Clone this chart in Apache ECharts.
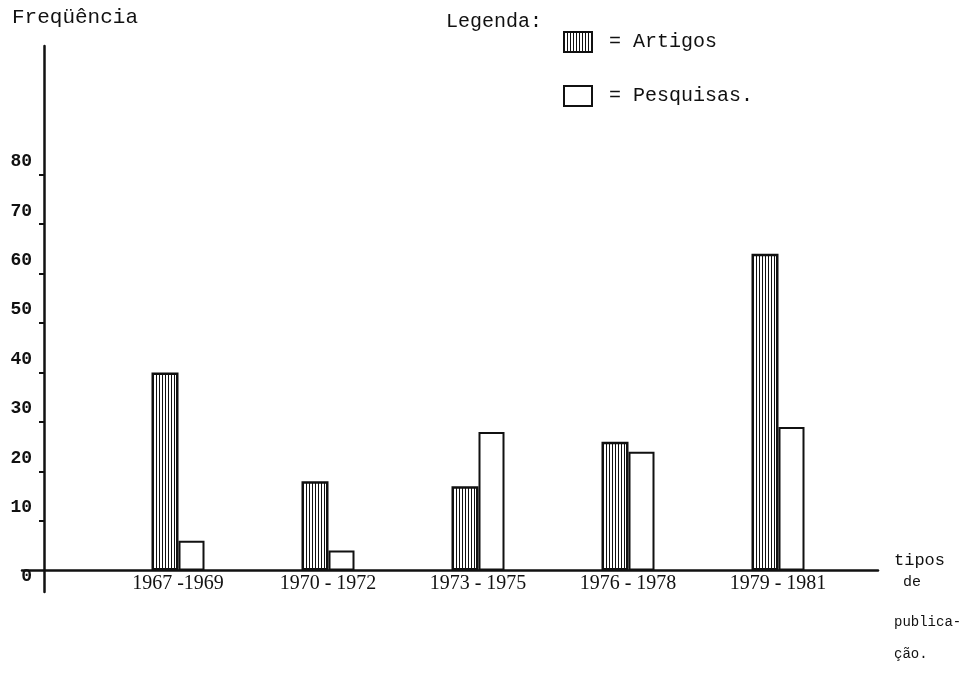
<!DOCTYPE html>
<html><head><meta charset="utf-8">
<script src="https://cdn.jsdelivr.net/npm/echarts@6/dist/echarts.min.js"></script>
<style>html,body{margin:0;padding:0;background:#fff}#c{width:969px;height:678px}</style>
</head><body><div id="c"></div>
<script>
const categories = ['1967 -1969', '1970 - 1972', '1973 - 1975', '1976 - 1978', '1979 - 1981'];
const artigos = [40, 18, 17, 26, 64];
const pesquisas = [6, 4, 28, 24, 29];
const yTickValues = [10, 20, 30, 40, 50, 60, 70, 80];
const yLabelValues = [0, 10, 20, 30, 40, 50, 60, 70, 80];
const seriesNames = ['Artigos', 'Pesquisas'];

const cv = document.createElement('canvas'); cv.width = 3; cv.height = 4;
const cx = cv.getContext('2d');
cx.fillStyle = '#fff'; cx.fillRect(0, 0, 3, 4);
cx.fillStyle = '#111'; cx.fillRect(0, 0, 1, 4);
const stripe = { image: cv, repeat: 'repeat' };

const mono = 'Liberation Mono';
const Y_MIN = -4.4, Y_MAX = 106;
const chart = echarts.init(document.getElementById('c'), null, { renderer: 'canvas' });
const option = {
  animation: false,
  backgroundColor: '#fff',
  title: [
    { text: 'Freqüência', left: 12, top: 7, padding: 0, textStyle: { fontFamily: mono, fontSize: 21, fontWeight: 'normal', color: '#111' } },
    { text: 'Legenda:', left: 446, top: 12, padding: 0, textStyle: { fontFamily: mono, fontSize: 20, fontWeight: 'normal', color: '#111' } },
    { text: '{a|tipos}\n{b| de}\n{c|publica-}\n{d|ção.}', left: 894, top: 550, padding: 0,
      textStyle: { fontFamily: mono, fontSize: 14, fontWeight: 'normal', color: '#111',
        rich: {
          a: { fontFamily: mono, fontSize: 17, lineHeight: 20, color: '#111' },
          b: { fontFamily: mono, fontSize: 15, lineHeight: 24, color: '#111' },
          c: { fontFamily: mono, fontSize: 14, lineHeight: 56, color: '#111' },
          d: { fontFamily: mono, fontSize: 14, lineHeight: 8, color: '#111' }
        } } }
  ],
  legend: {
    orient: 'vertical', left: 563, top: 31, padding: 0, icon: 'rect',
    itemWidth: 28, itemHeight: 20, itemGap: 32,
    data: seriesNames, selectedMode: false,
    formatter: n => '= ' + n + (n === 'Pesquisas' ? '.' : ''),
    textStyle: { fontFamily: mono, fontSize: 20, color: '#111', padding: [0, 0, 0, 12] }
  },
  grid: [
    { left: 22, right: 91, top: 46, bottom: 86, outerBoundsMode: 'none', containLabel: false },
    { left: 103, right: 116, top: 46, bottom: 107.6, outerBoundsMode: 'none', containLabel: false }
  ],
  xAxis: [
    { gridIndex: 0, type: 'value', min: -22, max: 834,
      axisLine: { show: true, onZero: true, lineStyle: { color: '#111', width: 2.5 } },
      axisTick: { show: false }, axisLabel: { show: false }, splitLine: { show: false } },
    { gridIndex: 1, type: 'category', data: categories,
      axisLine: { show: false }, axisTick: { show: false },
      axisLabel: { margin: 3, fontFamily: 'Liberation Serif', fontSize: 20, color: '#111' } }
  ],
  yAxis: [
    { gridIndex: 0, type: 'value', min: Y_MIN, max: Y_MAX,
      axisLine: { show: true, onZero: true, lineStyle: { color: '#111', width: 2.5 } },
      axisTick: { show: true, customValues: yTickValues, length: 5, lineStyle: { color: '#111', width: 2 } },
      axisLabel: { customValues: yLabelValues, margin: -10, lineHeight: 13,
        fontFamily: mono, fontSize: 18, fontWeight: 'bold', color: '#111',
        formatter: v => v === 0 ? '\n0' : v + '\n\n' },
      splitLine: { show: false } },
    { gridIndex: 1, type: 'value', min: 0, max: Y_MAX, show: false, splitLine: { show: false } }
  ],
  series: [
    { name: 'Artigos', type: 'bar', xAxisIndex: 1, yAxisIndex: 1, data: artigos, barWidth: 27,
      itemStyle: { color: stripe, borderColor: '#111', borderWidth: 2.5 } },
    { name: 'Pesquisas', type: 'bar', xAxisIndex: 1, yAxisIndex: 1, data: pesquisas, barWidth: 26, barGap: '0%',
      itemStyle: { color: '#fff', borderColor: '#111', borderWidth: 2 } }
  ]
};
chart.setOption(option);
</script>
</body></html>
